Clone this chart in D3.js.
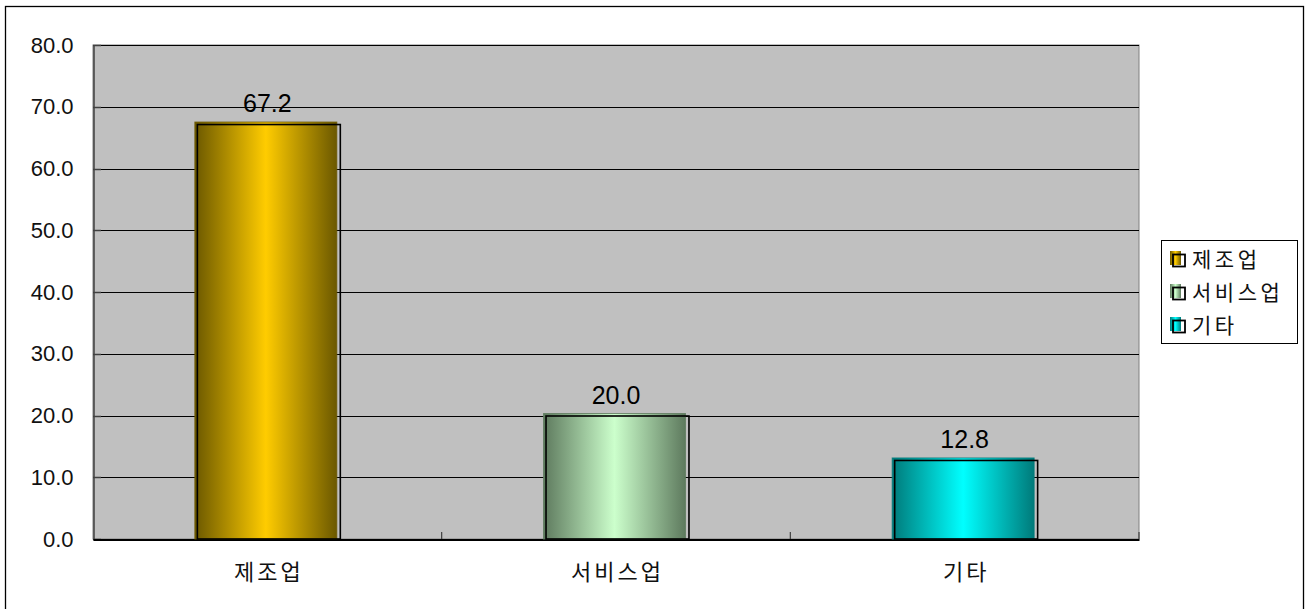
<!DOCTYPE html>
<html>
<head>
<meta charset="utf-8">
<script src="https://cdn.jsdelivr.net/npm/d3@7"></script>
<style>
  html, body { margin: 0; padding: 0; background: #fff; }
  svg { display: block; }
</style>
</head>
<body>
<svg id="chart" width="1306" height="609"></svg>
<script>
// Share by sector (%)
const categories = ["제조업", "서비스업", "기타"];
const values = [67.2, 20.0, 12.8];
const yTicks = [0, 10, 20, 30, 40, 50, 60, 70, 80];
const barEdge = ["#6B5800", "#5E7A5E", "#007A7A"];
const barCenter = ["#FFCC00", "#CCFFCC", "#00FFFF"];

const svg = d3.select("#chart");
const plot = { left: 93, right: 1139, top: 45, bottom: 539 };

// outer frame
svg.append("rect")
  .attr("x", 5.5).attr("y", 6.5).attr("width", 1298).attr("height", 610)
  .attr("fill", "#fff").attr("stroke", "#000").attr("stroke-width", 1.3);

const x = d3.scaleBand().domain(categories)
  .range([plot.left, plot.right]).paddingInner(0.59).paddingOuter(0.295);
const y = d3.scaleLinear().domain([0, 80]).range([plot.bottom, plot.top]);

// gradients
const defs = svg.append("defs");
categories.forEach((c, i) => {
  const g = defs.append("linearGradient").attr("id", "grad" + i)
    .attr("x1", "0%").attr("x2", "100%").attr("y1", "0%").attr("y2", "0%");
  g.append("stop").attr("offset", "0%").attr("stop-color", barEdge[i]);
  g.append("stop").attr("offset", "50%").attr("stop-color", barCenter[i]);
  g.append("stop").attr("offset", "100%").attr("stop-color", barEdge[i]);
});

// plot background
svg.append("rect")
  .attr("x", plot.left).attr("y", plot.top)
  .attr("width", plot.right - plot.left).attr("height", plot.bottom - plot.top)
  .attr("fill", "#C0C0C0").attr("stroke", "#808080").attr("stroke-width", 1);

// gridlines
svg.append("g").selectAll("line").data(yTicks.filter(d => d > 0)).join("line")
  .attr("x1", plot.left).attr("x2", plot.right)
  .attr("y1", d => Math.round(y(d)) + 0.5).attr("y2", d => Math.round(y(d)) + 0.5)
  .attr("stroke", "#000").attr("stroke-width", 1);

// y axis
const yAxis = svg.append("g").attr("transform", `translate(${plot.left + 0.5},0)`)
  .call(d3.axisLeft(y).tickValues(yTicks).tickFormat(d3.format(".1f")).tickSize(0).tickPadding(20));
yAxis.select(".domain").attr("stroke", "#404040").attr("stroke-width", 1.5);
yAxis.selectAll("text")
  .attr("font-family", "'Liberation Sans', Arial, sans-serif")
  .attr("font-size", 22).attr("fill", "#111");
// inner tick marks
svg.append("g").selectAll("line").data(yTicks).join("line")
  .attr("x1", plot.left).attr("x2", plot.left + 8)
  .attr("y1", d => Math.round(y(d)) + 0.5).attr("y2", d => Math.round(y(d)) + 0.5)
  .attr("stroke", "#404040").attr("stroke-width", 1.5);

// x axis
const xAxis = svg.append("g").attr("transform", `translate(0,${plot.bottom + 0.5})`)
  .call(d3.axisBottom(x).tickSize(0).tickPadding(25));
xAxis.select(".domain").attr("stroke", "#000").attr("stroke-width", 2);
xAxis.selectAll("text")
  .attr("font-family", "'Noto Sans CJK KR', sans-serif")
  .attr("font-size", 22).attr("letter-spacing", 3).attr("dx", 1.5).attr("fill", "#111");
// category separators
const step = x.step();
svg.append("g").selectAll("line").data(d3.range(1, categories.length + 1)).join("line")
  .attr("x1", d => plot.left + d * step).attr("x2", d => plot.left + d * step)
  .attr("y1", plot.bottom - 7).attr("y2", plot.bottom)
  .attr("stroke", "#404040").attr("stroke-width", 1.2);

// bars
const bars = svg.append("g");
categories.forEach((c, i) => {
  const bx = x(c), bw = x.bandwidth(), by = y(values[i]);
  bars.append("rect")
    .attr("x", bx - 1).attr("y", by - 2)
    .attr("width", bw - 1).attr("height", plot.bottom - by + 2)
    .attr("fill", `url(#grad${i})`)
    .attr("stroke", barEdge[i]).attr("stroke-width", 1).attr("stroke-opacity", 0.8);
  bars.append("rect")
    .attr("x", bx + 1.5).attr("y", by + 0.5)
    .attr("width", bw).attr("height", plot.bottom - by - 0.5)
    .attr("fill", "none").attr("stroke", "#000").attr("stroke-width", 1.6);
  bars.append("text")
    .attr("x", bx + bw / 2).attr("y", by - 12)
    .attr("text-anchor", "middle")
    .attr("font-family", "'Liberation Sans', Arial, sans-serif")
    .attr("font-size", 25).attr("fill", "#000")
    .text(d3.format(".1f")(values[i]));
});

// legend
const lg = svg.append("g");
lg.append("rect")
  .attr("x", 1161.5).attr("y", 240.5).attr("width", 136).attr("height", 103)
  .attr("fill", "#fff").attr("stroke", "#000").attr("stroke-width", 1);
categories.forEach((c, i) => {
  const cy = 259 + i * 33;
  lg.append("rect")
    .attr("x", 1170).attr("y", cy - 8).attr("width", 11).attr("height", 14)
    .attr("fill", `url(#grad${i})`);
  lg.append("rect")
    .attr("x", 1173).attr("y", cy - 4.5).attr("width", 12).attr("height", 12)
    .attr("fill", "none").attr("stroke", "#000").attr("stroke-width", 1.8);
  lg.append("text")
    .attr("x", 1192).attr("y", cy).attr("dy", "0.36em")
    .attr("font-family", "'Noto Sans CJK KR', sans-serif")
    .attr("font-size", 21).attr("letter-spacing", 3.5).attr("fill", "#111")
    .text(c);
});
</script>
</body>
</html>
